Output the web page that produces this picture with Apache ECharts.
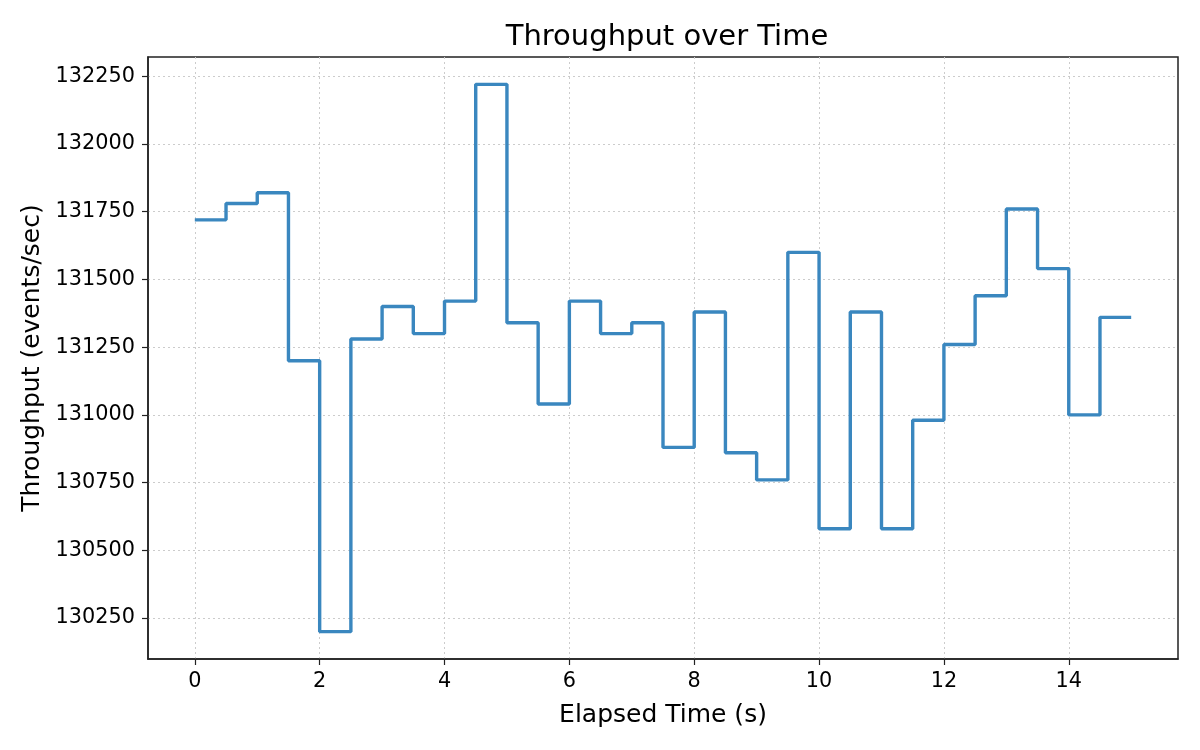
<!DOCTYPE html>
<html>
<head>
<meta charset="utf-8">
<title>Throughput over Time</title>
<script src="https://cdn.jsdelivr.net/npm/echarts@6/dist/echarts.min.js"></script>
<style>
  html, body { margin: 0; padding: 0; background: #fff; }
  #chart { width: 1200px; height: 750px; }
</style>
</head>
<body>
<div id="chart"></div>
<script>
// elapsed time (s) and throughput, one step every 0.5 s
var times = [0, 0.5, 1, 1.5, 2, 2.5, 3, 3.5, 4, 4.5, 5, 5.5, 6, 6.5, 7, 7.5,
             8, 8.5, 9, 9.5, 10, 10.5, 11, 11.5, 12, 12.5, 13, 13.5, 14, 14.5, 15];
var throughput = [131720, 131780, 131820, 131200, 130200, 131280, 131400, 131300,
                  131420, 132220, 131340, 131040, 131420, 131300, 131340, 130880,
                  131380, 130860, 130760, 131600, 130580, 131380, 130580, 130980,
                  131260, 131440, 131760, 131540, 131000, 131360, 131360];

var xTicks = [0, 2, 4, 6, 8, 10, 12, 14];
var yTicks = [130250, 130500, 130750, 131000, 131250, 131500, 131750, 132000, 132250];

var font = "DejaVu Sans";

var points = times.map(function (t, i) { return [t, throughput[i]]; });

// matplotlib style 5% margins around the data
var xSpan = times[times.length - 1] - times[0];
var yMin = Math.min.apply(null, throughput);
var yMax = Math.max.apply(null, throughput);
var ySpan = yMax - yMin;

var gridLine = { show: true, lineStyle: { color: "#cccccc", width: 1, type: [2, 3] } };

var option = {
  animation: false,
  backgroundColor: "#ffffff",
  title: {
    text: "Throughput over Time",
    left: 662,
    top: 18,
    textAlign: "center",
    textStyle: { fontFamily: font, fontSize: 29, fontWeight: "normal", color: "#000" }
  },
  grid: {
    left: 148, right: 22, top: 57, bottom: 91,
    show: true, borderColor: "#222", borderWidth: 1.5
  },
  xAxis: {
    type: "value",
    min: times[0] - xSpan * 0.05,
    max: times[times.length - 1] + xSpan * 0.05,
    name: "Elapsed Time (s)",
    nameLocation: "middle",
    nameGap: 44,
    nameTextStyle: { fontFamily: font, fontSize: 25, color: "#000" },
    axisLine: { show: true, onZero: false, lineStyle: { color: "#222", width: 1.5 } },
    axisTick: { show: true, length: 6, customValues: xTicks, lineStyle: { color: "#222", width: 1.2 } },
    axisLabel: { customValues: xTicks, margin: 12, fontFamily: font, fontSize: 20.8, color: "#000" },
    splitLine: gridLine
  },
  yAxis: {
    type: "value",
    min: yMin - ySpan * 0.05,
    max: yMax + ySpan * 0.05,
    name: "Throughput (events/sec)",
    nameLocation: "middle",
    nameGap: 91,
    nameTextStyle: { fontFamily: font, fontSize: 25, color: "#000" },
    axisLine: { show: true, onZero: false, lineStyle: { color: "#222", width: 1.5 } },
    axisTick: { show: true, length: 6, customValues: yTicks, lineStyle: { color: "#222", width: 1.2 } },
    axisLabel: {
      customValues: yTicks, margin: 13, fontFamily: font, fontSize: 20.8, color: "#000",
      formatter: function (v) { return String(v); }
    },
    splitLine: gridLine
  },
  series: [{
    type: "line",
    step: "end",
    data: points,
    showSymbol: false,
    lineStyle: { color: "#3a87bf", width: 3.4 },
    itemStyle: { color: "#3a87bf" }
  }]
};

var myChart = echarts.init(document.getElementById("chart"));
myChart.setOption(option);
</script>
</body>
</html>
